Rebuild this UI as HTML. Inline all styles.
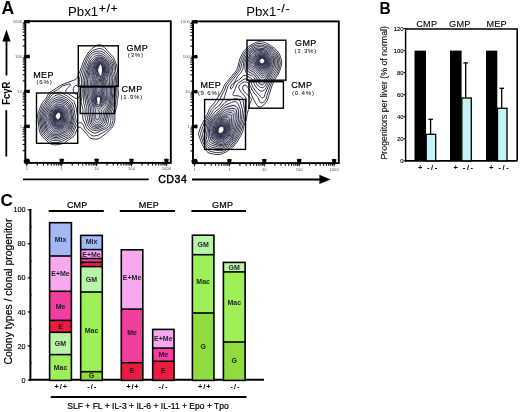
<!DOCTYPE html>
<html><head><meta charset="utf-8"><style>
html,body{margin:0;padding:0;background:#fff;width:520px;height:412px;overflow:hidden}
svg{display:block;font-family:"Liberation Sans",sans-serif;will-change:transform}
</style></head><body>
<svg width="520" height="412" viewBox="0 0 520 412" font-family="Liberation Sans, sans-serif"><defs><radialGradient id="core">
<stop offset="0" stop-color="#fff" stop-opacity="1"/>
<stop offset="0.14" stop-color="#fff" stop-opacity="0.95"/>
<stop offset="0.26" stop-color="#15172e" stop-opacity="0.75"/>
<stop offset="0.55" stop-color="#2a2c4a" stop-opacity="0.4"/>
<stop offset="1" stop-color="#2a2c4a" stop-opacity="0"/>
</radialGradient></defs>
<text x="1.5" y="14.1" font-size="17.5" font-weight="bold" text-anchor="start" fill="#000" >A</text>
<rect x="25.3" y="21.2" width="145.5" height="141.70000000000002" fill="none" stroke="#000" stroke-width="1.9"/><path d="M23.8 20.4 L29.5 19.7 Q30.5 21.6 29.5 23.5 L23.8 22.8 Z" fill="#000"/><path d="M23.8 55.3 L29.5 54.6 Q30.5 56.5 29.5 58.4 L23.8 57.7 Z" fill="#000"/><path d="M23.8 90.2 L29.5 89.5 Q30.5 91.4 29.5 93.3 L23.8 92.6 Z" fill="#000"/><path d="M23.8 125.1 L29.5 124.4 Q30.5 126.3 29.5 128.2 L23.8 127.5 Z" fill="#000"/><path d="M23.8 160.0 L29.5 159.3 Q30.5 161.2 29.5 163.1 L23.8 162.4 Z" fill="#000"/><path d="M25.6 164.4 L24.4 159.1 Q26.8 158.1 29.2 159.1 L28.0 164.4 Z" fill="#000"/><line x1="26.8" y1="162.9" x2="26.8" y2="166.3" stroke="#000" stroke-width="0.9"/><path d="M60.5 164.4 L59.3 159.1 Q61.7 158.1 64.1 159.1 L62.9 164.4 Z" fill="#000"/><line x1="61.7" y1="162.9" x2="61.7" y2="166.3" stroke="#000" stroke-width="0.9"/><path d="M95.4 164.4 L94.2 159.1 Q96.6 158.1 99.0 159.1 L97.8 164.4 Z" fill="#000"/><line x1="96.6" y1="162.9" x2="96.6" y2="166.3" stroke="#000" stroke-width="0.9"/><path d="M130.3 164.4 L129.1 159.1 Q131.5 158.1 133.9 159.1 L132.7 164.4 Z" fill="#000"/><line x1="131.5" y1="162.9" x2="131.5" y2="166.3" stroke="#000" stroke-width="0.9"/><path d="M165.2 164.4 L164.0 159.1 Q166.4 158.1 168.8 159.1 L167.6 164.4 Z" fill="#000"/><line x1="166.4" y1="162.9" x2="166.4" y2="166.3" stroke="#000" stroke-width="0.9"/><line x1="22.7" y1="150.7" x2="25.3" y2="150.7" stroke="#000" stroke-width="1.1"/><line x1="37.3" y1="162.9" x2="37.3" y2="165.5" stroke="#000" stroke-width="1.1"/><line x1="22.7" y1="144.5" x2="25.3" y2="144.5" stroke="#000" stroke-width="1.1"/><line x1="43.5" y1="162.9" x2="43.5" y2="165.5" stroke="#000" stroke-width="1.1"/><line x1="22.7" y1="140.2" x2="25.3" y2="140.2" stroke="#000" stroke-width="1.1"/><line x1="47.8" y1="162.9" x2="47.8" y2="165.5" stroke="#000" stroke-width="1.1"/><line x1="22.7" y1="136.8" x2="25.3" y2="136.8" stroke="#000" stroke-width="1.1"/><line x1="51.2" y1="162.9" x2="51.2" y2="165.5" stroke="#000" stroke-width="1.1"/><line x1="22.7" y1="134.0" x2="25.3" y2="134.0" stroke="#000" stroke-width="1.1"/><line x1="54.0" y1="162.9" x2="54.0" y2="165.5" stroke="#000" stroke-width="1.1"/><line x1="22.7" y1="131.7" x2="25.3" y2="131.7" stroke="#000" stroke-width="1.1"/><line x1="56.3" y1="162.9" x2="56.3" y2="165.5" stroke="#000" stroke-width="1.1"/><line x1="22.7" y1="129.7" x2="25.3" y2="129.7" stroke="#000" stroke-width="1.1"/><line x1="58.3" y1="162.9" x2="58.3" y2="165.5" stroke="#000" stroke-width="1.1"/><line x1="22.7" y1="127.9" x2="25.3" y2="127.9" stroke="#000" stroke-width="1.1"/><line x1="60.1" y1="162.9" x2="60.1" y2="165.5" stroke="#000" stroke-width="1.1"/><line x1="22.7" y1="115.8" x2="25.3" y2="115.8" stroke="#000" stroke-width="1.1"/><line x1="72.2" y1="162.9" x2="72.2" y2="165.5" stroke="#000" stroke-width="1.1"/><line x1="22.7" y1="109.6" x2="25.3" y2="109.6" stroke="#000" stroke-width="1.1"/><line x1="78.4" y1="162.9" x2="78.4" y2="165.5" stroke="#000" stroke-width="1.1"/><line x1="22.7" y1="105.3" x2="25.3" y2="105.3" stroke="#000" stroke-width="1.1"/><line x1="82.7" y1="162.9" x2="82.7" y2="165.5" stroke="#000" stroke-width="1.1"/><line x1="22.7" y1="101.9" x2="25.3" y2="101.9" stroke="#000" stroke-width="1.1"/><line x1="86.1" y1="162.9" x2="86.1" y2="165.5" stroke="#000" stroke-width="1.1"/><line x1="22.7" y1="99.1" x2="25.3" y2="99.1" stroke="#000" stroke-width="1.1"/><line x1="88.9" y1="162.9" x2="88.9" y2="165.5" stroke="#000" stroke-width="1.1"/><line x1="22.7" y1="96.8" x2="25.3" y2="96.8" stroke="#000" stroke-width="1.1"/><line x1="91.2" y1="162.9" x2="91.2" y2="165.5" stroke="#000" stroke-width="1.1"/><line x1="22.7" y1="94.8" x2="25.3" y2="94.8" stroke="#000" stroke-width="1.1"/><line x1="93.2" y1="162.9" x2="93.2" y2="165.5" stroke="#000" stroke-width="1.1"/><line x1="22.7" y1="93.0" x2="25.3" y2="93.0" stroke="#000" stroke-width="1.1"/><line x1="95.0" y1="162.9" x2="95.0" y2="165.5" stroke="#000" stroke-width="1.1"/><line x1="22.7" y1="80.9" x2="25.3" y2="80.9" stroke="#000" stroke-width="1.1"/><line x1="107.1" y1="162.9" x2="107.1" y2="165.5" stroke="#000" stroke-width="1.1"/><line x1="22.7" y1="74.7" x2="25.3" y2="74.7" stroke="#000" stroke-width="1.1"/><line x1="113.3" y1="162.9" x2="113.3" y2="165.5" stroke="#000" stroke-width="1.1"/><line x1="22.7" y1="70.4" x2="25.3" y2="70.4" stroke="#000" stroke-width="1.1"/><line x1="117.6" y1="162.9" x2="117.6" y2="165.5" stroke="#000" stroke-width="1.1"/><line x1="22.7" y1="67.0" x2="25.3" y2="67.0" stroke="#000" stroke-width="1.1"/><line x1="121.0" y1="162.9" x2="121.0" y2="165.5" stroke="#000" stroke-width="1.1"/><line x1="22.7" y1="64.2" x2="25.3" y2="64.2" stroke="#000" stroke-width="1.1"/><line x1="123.8" y1="162.9" x2="123.8" y2="165.5" stroke="#000" stroke-width="1.1"/><line x1="22.7" y1="61.9" x2="25.3" y2="61.9" stroke="#000" stroke-width="1.1"/><line x1="126.1" y1="162.9" x2="126.1" y2="165.5" stroke="#000" stroke-width="1.1"/><line x1="22.7" y1="59.9" x2="25.3" y2="59.9" stroke="#000" stroke-width="1.1"/><line x1="128.1" y1="162.9" x2="128.1" y2="165.5" stroke="#000" stroke-width="1.1"/><line x1="22.7" y1="58.1" x2="25.3" y2="58.1" stroke="#000" stroke-width="1.1"/><line x1="129.9" y1="162.9" x2="129.9" y2="165.5" stroke="#000" stroke-width="1.1"/><line x1="22.7" y1="46.0" x2="25.3" y2="46.0" stroke="#000" stroke-width="1.1"/><line x1="142.0" y1="162.9" x2="142.0" y2="165.5" stroke="#000" stroke-width="1.1"/><line x1="22.7" y1="39.8" x2="25.3" y2="39.8" stroke="#000" stroke-width="1.1"/><line x1="148.2" y1="162.9" x2="148.2" y2="165.5" stroke="#000" stroke-width="1.1"/><line x1="22.7" y1="35.5" x2="25.3" y2="35.5" stroke="#000" stroke-width="1.1"/><line x1="152.5" y1="162.9" x2="152.5" y2="165.5" stroke="#000" stroke-width="1.1"/><line x1="22.7" y1="32.1" x2="25.3" y2="32.1" stroke="#000" stroke-width="1.1"/><line x1="155.9" y1="162.9" x2="155.9" y2="165.5" stroke="#000" stroke-width="1.1"/><line x1="22.7" y1="29.3" x2="25.3" y2="29.3" stroke="#000" stroke-width="1.1"/><line x1="158.7" y1="162.9" x2="158.7" y2="165.5" stroke="#000" stroke-width="1.1"/><line x1="22.7" y1="27.0" x2="25.3" y2="27.0" stroke="#000" stroke-width="1.1"/><line x1="161.0" y1="162.9" x2="161.0" y2="165.5" stroke="#000" stroke-width="1.1"/><line x1="22.7" y1="25.0" x2="25.3" y2="25.0" stroke="#000" stroke-width="1.1"/><line x1="163.0" y1="162.9" x2="163.0" y2="165.5" stroke="#000" stroke-width="1.1"/><line x1="22.7" y1="23.2" x2="25.3" y2="23.2" stroke="#000" stroke-width="1.1"/><line x1="164.8" y1="162.9" x2="164.8" y2="165.5" stroke="#000" stroke-width="1.1"/><text x="22.1" y="22.999999999999996" font-size="4.2" font-weight="normal" text-anchor="end" fill="#555" >1000</text><text x="22.1" y="57.9" font-size="4.2" font-weight="normal" text-anchor="end" fill="#555" >100</text><text x="22.1" y="92.8" font-size="4.2" font-weight="normal" text-anchor="end" fill="#555" >10</text><text x="22.1" y="127.69999999999999" font-size="4.2" font-weight="normal" text-anchor="end" fill="#555" >1</text><text x="26.8" y="170.3" font-size="4.2" font-weight="normal" text-anchor="middle" fill="#555" >1</text><text x="61.7" y="170.3" font-size="4.2" font-weight="normal" text-anchor="middle" fill="#555" >1</text><text x="96.6" y="170.3" font-size="4.2" font-weight="normal" text-anchor="middle" fill="#555" >10</text><text x="131.5" y="170.3" font-size="4.2" font-weight="normal" text-anchor="middle" fill="#555" >100</text><text x="166.4" y="170.3" font-size="4.2" font-weight="normal" text-anchor="middle" fill="#555" >1000</text>
<rect x="193.0" y="21.4" width="145.8" height="141.7" fill="none" stroke="#000" stroke-width="1.9"/><path d="M191.5 20.6 L197.2 19.9 Q198.2 21.8 197.2 23.7 L191.5 23.0 Z" fill="#000"/><path d="M191.5 55.5 L197.2 54.8 Q198.2 56.7 197.2 58.6 L191.5 57.9 Z" fill="#000"/><path d="M191.5 90.4 L197.2 89.7 Q198.2 91.6 197.2 93.5 L191.5 92.8 Z" fill="#000"/><path d="M191.5 125.3 L197.2 124.6 Q198.2 126.5 197.2 128.4 L191.5 127.7 Z" fill="#000"/><path d="M191.5 160.2 L197.2 159.5 Q198.2 161.4 197.2 163.3 L191.5 162.6 Z" fill="#000"/><path d="M193.3 164.6 L192.1 159.3 Q194.5 158.3 196.9 159.3 L195.7 164.6 Z" fill="#000"/><line x1="194.5" y1="163.1" x2="194.5" y2="166.5" stroke="#000" stroke-width="0.9"/><path d="M228.2 164.6 L227.0 159.3 Q229.4 158.3 231.8 159.3 L230.6 164.6 Z" fill="#000"/><line x1="229.4" y1="163.1" x2="229.4" y2="166.5" stroke="#000" stroke-width="0.9"/><path d="M263.1 164.6 L261.9 159.3 Q264.3 158.3 266.7 159.3 L265.5 164.6 Z" fill="#000"/><line x1="264.3" y1="163.1" x2="264.3" y2="166.5" stroke="#000" stroke-width="0.9"/><path d="M298.0 164.6 L296.8 159.3 Q299.2 158.3 301.6 159.3 L300.4 164.6 Z" fill="#000"/><line x1="299.2" y1="163.1" x2="299.2" y2="166.5" stroke="#000" stroke-width="0.9"/><path d="M332.9 164.6 L331.7 159.3 Q334.1 158.3 336.5 159.3 L335.3 164.6 Z" fill="#000"/><line x1="334.1" y1="163.1" x2="334.1" y2="166.5" stroke="#000" stroke-width="0.9"/><line x1="190.4" y1="150.9" x2="193.0" y2="150.9" stroke="#000" stroke-width="1.1"/><line x1="205.0" y1="163.1" x2="205.0" y2="165.7" stroke="#000" stroke-width="1.1"/><line x1="190.4" y1="144.7" x2="193.0" y2="144.7" stroke="#000" stroke-width="1.1"/><line x1="211.2" y1="163.1" x2="211.2" y2="165.7" stroke="#000" stroke-width="1.1"/><line x1="190.4" y1="140.4" x2="193.0" y2="140.4" stroke="#000" stroke-width="1.1"/><line x1="215.5" y1="163.1" x2="215.5" y2="165.7" stroke="#000" stroke-width="1.1"/><line x1="190.4" y1="137.0" x2="193.0" y2="137.0" stroke="#000" stroke-width="1.1"/><line x1="218.9" y1="163.1" x2="218.9" y2="165.7" stroke="#000" stroke-width="1.1"/><line x1="190.4" y1="134.2" x2="193.0" y2="134.2" stroke="#000" stroke-width="1.1"/><line x1="221.7" y1="163.1" x2="221.7" y2="165.7" stroke="#000" stroke-width="1.1"/><line x1="190.4" y1="131.9" x2="193.0" y2="131.9" stroke="#000" stroke-width="1.1"/><line x1="224.0" y1="163.1" x2="224.0" y2="165.7" stroke="#000" stroke-width="1.1"/><line x1="190.4" y1="129.9" x2="193.0" y2="129.9" stroke="#000" stroke-width="1.1"/><line x1="226.0" y1="163.1" x2="226.0" y2="165.7" stroke="#000" stroke-width="1.1"/><line x1="190.4" y1="128.1" x2="193.0" y2="128.1" stroke="#000" stroke-width="1.1"/><line x1="227.8" y1="163.1" x2="227.8" y2="165.7" stroke="#000" stroke-width="1.1"/><line x1="190.4" y1="116.0" x2="193.0" y2="116.0" stroke="#000" stroke-width="1.1"/><line x1="239.9" y1="163.1" x2="239.9" y2="165.7" stroke="#000" stroke-width="1.1"/><line x1="190.4" y1="109.8" x2="193.0" y2="109.8" stroke="#000" stroke-width="1.1"/><line x1="246.1" y1="163.1" x2="246.1" y2="165.7" stroke="#000" stroke-width="1.1"/><line x1="190.4" y1="105.5" x2="193.0" y2="105.5" stroke="#000" stroke-width="1.1"/><line x1="250.4" y1="163.1" x2="250.4" y2="165.7" stroke="#000" stroke-width="1.1"/><line x1="190.4" y1="102.1" x2="193.0" y2="102.1" stroke="#000" stroke-width="1.1"/><line x1="253.8" y1="163.1" x2="253.8" y2="165.7" stroke="#000" stroke-width="1.1"/><line x1="190.4" y1="99.3" x2="193.0" y2="99.3" stroke="#000" stroke-width="1.1"/><line x1="256.6" y1="163.1" x2="256.6" y2="165.7" stroke="#000" stroke-width="1.1"/><line x1="190.4" y1="97.0" x2="193.0" y2="97.0" stroke="#000" stroke-width="1.1"/><line x1="258.9" y1="163.1" x2="258.9" y2="165.7" stroke="#000" stroke-width="1.1"/><line x1="190.4" y1="95.0" x2="193.0" y2="95.0" stroke="#000" stroke-width="1.1"/><line x1="260.9" y1="163.1" x2="260.9" y2="165.7" stroke="#000" stroke-width="1.1"/><line x1="190.4" y1="93.2" x2="193.0" y2="93.2" stroke="#000" stroke-width="1.1"/><line x1="262.7" y1="163.1" x2="262.7" y2="165.7" stroke="#000" stroke-width="1.1"/><line x1="190.4" y1="81.1" x2="193.0" y2="81.1" stroke="#000" stroke-width="1.1"/><line x1="274.8" y1="163.1" x2="274.8" y2="165.7" stroke="#000" stroke-width="1.1"/><line x1="190.4" y1="74.9" x2="193.0" y2="74.9" stroke="#000" stroke-width="1.1"/><line x1="281.0" y1="163.1" x2="281.0" y2="165.7" stroke="#000" stroke-width="1.1"/><line x1="190.4" y1="70.6" x2="193.0" y2="70.6" stroke="#000" stroke-width="1.1"/><line x1="285.3" y1="163.1" x2="285.3" y2="165.7" stroke="#000" stroke-width="1.1"/><line x1="190.4" y1="67.2" x2="193.0" y2="67.2" stroke="#000" stroke-width="1.1"/><line x1="288.7" y1="163.1" x2="288.7" y2="165.7" stroke="#000" stroke-width="1.1"/><line x1="190.4" y1="64.4" x2="193.0" y2="64.4" stroke="#000" stroke-width="1.1"/><line x1="291.5" y1="163.1" x2="291.5" y2="165.7" stroke="#000" stroke-width="1.1"/><line x1="190.4" y1="62.1" x2="193.0" y2="62.1" stroke="#000" stroke-width="1.1"/><line x1="293.8" y1="163.1" x2="293.8" y2="165.7" stroke="#000" stroke-width="1.1"/><line x1="190.4" y1="60.1" x2="193.0" y2="60.1" stroke="#000" stroke-width="1.1"/><line x1="295.8" y1="163.1" x2="295.8" y2="165.7" stroke="#000" stroke-width="1.1"/><line x1="190.4" y1="58.3" x2="193.0" y2="58.3" stroke="#000" stroke-width="1.1"/><line x1="297.6" y1="163.1" x2="297.6" y2="165.7" stroke="#000" stroke-width="1.1"/><line x1="190.4" y1="46.2" x2="193.0" y2="46.2" stroke="#000" stroke-width="1.1"/><line x1="309.7" y1="163.1" x2="309.7" y2="165.7" stroke="#000" stroke-width="1.1"/><line x1="190.4" y1="40.0" x2="193.0" y2="40.0" stroke="#000" stroke-width="1.1"/><line x1="315.9" y1="163.1" x2="315.9" y2="165.7" stroke="#000" stroke-width="1.1"/><line x1="190.4" y1="35.7" x2="193.0" y2="35.7" stroke="#000" stroke-width="1.1"/><line x1="320.2" y1="163.1" x2="320.2" y2="165.7" stroke="#000" stroke-width="1.1"/><line x1="190.4" y1="32.3" x2="193.0" y2="32.3" stroke="#000" stroke-width="1.1"/><line x1="323.6" y1="163.1" x2="323.6" y2="165.7" stroke="#000" stroke-width="1.1"/><line x1="190.4" y1="29.5" x2="193.0" y2="29.5" stroke="#000" stroke-width="1.1"/><line x1="326.4" y1="163.1" x2="326.4" y2="165.7" stroke="#000" stroke-width="1.1"/><line x1="190.4" y1="27.2" x2="193.0" y2="27.2" stroke="#000" stroke-width="1.1"/><line x1="328.7" y1="163.1" x2="328.7" y2="165.7" stroke="#000" stroke-width="1.1"/><line x1="190.4" y1="25.2" x2="193.0" y2="25.2" stroke="#000" stroke-width="1.1"/><line x1="330.7" y1="163.1" x2="330.7" y2="165.7" stroke="#000" stroke-width="1.1"/><line x1="190.4" y1="23.4" x2="193.0" y2="23.4" stroke="#000" stroke-width="1.1"/><line x1="332.5" y1="163.1" x2="332.5" y2="165.7" stroke="#000" stroke-width="1.1"/><text x="189.8" y="23.199999999999996" font-size="4.2" font-weight="normal" text-anchor="end" fill="#555" >1000</text><text x="189.8" y="58.099999999999994" font-size="4.2" font-weight="normal" text-anchor="end" fill="#555" >100</text><text x="189.8" y="93.0" font-size="4.2" font-weight="normal" text-anchor="end" fill="#555" >10</text><text x="189.8" y="127.89999999999999" font-size="4.2" font-weight="normal" text-anchor="end" fill="#555" >1</text><text x="194.5" y="170.5" font-size="4.2" font-weight="normal" text-anchor="middle" fill="#555" >1</text><text x="229.4" y="170.5" font-size="4.2" font-weight="normal" text-anchor="middle" fill="#555" >1</text><text x="264.3" y="170.5" font-size="4.2" font-weight="normal" text-anchor="middle" fill="#555" >10</text><text x="299.2" y="170.5" font-size="4.2" font-weight="normal" text-anchor="middle" fill="#555" >100</text><text x="334.1" y="170.5" font-size="4.2" font-weight="normal" text-anchor="middle" fill="#555" >1000</text>
<text x="68" y="15.8" font-size="13.2">Pbx1<tspan font-size="11.5" dx="1" dy="-3.4" letter-spacing="0.9" stroke="#000" stroke-width="0.25">+/+</tspan></text>
<text x="246.2" y="15.8" font-size="13.2">Pbx1<tspan font-size="11.5" dx="0.6" dy="-3.4" letter-spacing="0.9" stroke="#000" stroke-width="0.25">-/-</tspan></text>
<path d="M2.4 41.5 L6.5 29.6 L10.6 41.5 Z" fill="#000"/>
<line x1="6.5" y1="40" x2="6.5" y2="75.5" stroke="#000" stroke-width="1.8"/>
<text transform="translate(9.9,104.7) rotate(-90)" font-size="10.4" font-weight="bold" textLength="23" lengthAdjust="spacingAndGlyphs">Fc&#947;R</text>
<line x1="6.3" y1="110.2" x2="6.3" y2="156.5" stroke="#000" stroke-width="1.8"/>
<line x1="23" y1="179.4" x2="148.7" y2="179.4" stroke="#000" stroke-width="1.8"/>
<text x="158.2" y="182.6" font-size="10.6" font-weight="normal" text-anchor="start" fill="#000" letter-spacing="0.5" stroke="#000" stroke-width="0.45">CD34</text>
<line x1="192" y1="179.5" x2="321" y2="179.5" stroke="#000" stroke-width="1.8"/>
<path d="M319.4 174.8 L330.6 179.4 L319.4 183.9 Z" fill="#000"/>
<path d="M97.7 128.0L95.0 128.0L92.3 126.9L90.3 125.1L89.3 123.0L87.8 113.7L87.8 107.7L86.2 101.7L85.1 94.3L85.2 80.7L87.2 70.3L90.7 61.9L94.7 57.4L99.0 56.0L102.0 56.7L105.7 59.0L108.6 61.7L110.4 64.7L110.4 72.0L112.0 77.7L111.8 83.0L112.4 91.0L111.0 104.0L107.7 111.7L105.3 123.0L103.0 125.6L97.7 128.0Z M57.7 136.7L55.0 136.8L51.7 135.8L49.0 134.3L46.7 132.0L45.1 128.3L43.2 117.3L44.4 113.0L50.3 102.9L54.0 99.8L59.3 97.9L65.3 100.1L69.9 104.0L71.9 108.7L73.2 118.0L71.2 126.0L68.3 131.3L66.3 132.9L57.7 136.7Z" fill="#3a3e62" fill-opacity="0.15"/><path d="M97.3 122.1L95.7 121.5L94.6 119.3L93.8 109.0L90.4 96.7L90.0 90.3L91.8 69.7L95.0 63.3L97.3 61.6L99.7 61.1L104.0 62.8L105.7 64.7L106.4 66.7L105.6 78.7L107.5 88.7L107.3 99.0L106.0 103.9L101.2 109.3L100.7 117.3L99.3 120.7L97.3 122.1Z M57.0 131.4L53.7 130.9L50.3 127.9L48.3 121.7L48.1 117.0L49.7 112.7L52.3 109.2L57.7 105.5L61.3 104.9L64.7 106.3L66.6 109.0L68.7 117.0L68.6 121.3L67.6 125.0L66.0 127.1L57.0 131.4Z" fill="#3a3e62" fill-opacity="0.15"/><path d="M100.7 72.3L98.0 72.2L96.4 69.7L97.1 66.3L99.3 64.7L101.7 65.3L103.0 67.7L102.5 70.7L100.7 72.3Z M98.0 103.0L96.3 102.2L95.2 100.0L94.4 87.7L96.2 82.0L97.7 80.2L99.0 79.8L101.3 81.5L102.9 85.3L103.0 88.3L101.9 93.7L102.6 98.3L101.3 101.4L98.0 103.0Z M60.0 126.1L57.3 126.1L55.3 124.9L54.0 122.3L53.0 118.3L53.1 115.7L54.1 113.3L56.0 111.7L58.3 110.9L60.3 111.2L62.2 112.7L63.6 115.3L64.2 118.7L64.3 121.7L63.7 123.7L62.3 125.1L60.0 126.1Z" fill="#3a3e62" fill-opacity="0.15"/><path d="M58.7 119.7L57.7 119.1L57.3 118.0L57.6 116.7L58.3 116.1L59.3 116.6L59.7 117.7L59.5 119.0L58.7 119.7 M59.3 121.4L58.3 121.4L57.6 121.0L56.4 118.7L56.6 116.0L58.0 114.8L59.7 115.2L60.6 117.0L60.6 119.7L59.3 121.4 M100.0 68.7L99.3 68.0L100.0 67.4L100.5 68.0L100.0 68.7 M99.3 90.0L98.7 90.3L98.0 89.9L97.3 88.0L97.7 85.9L98.3 85.0L99.0 84.8L100.0 85.6L100.4 87.0L100.1 88.7L99.3 90.0 M59.3 123.0L58.0 122.8L57.0 122.0L56.1 120.7L55.5 118.7L55.5 117.0L55.9 115.3L56.7 114.3L58.0 113.6L59.3 113.8L60.3 114.5L61.6 117.3L61.2 121.3L60.3 122.6L59.3 123.0 M100.3 70.1L99.0 70.0L98.2 68.7L98.5 67.0L99.7 66.2L101.0 66.7L101.5 67.7L101.3 69.2L100.3 70.1 M98.7 93.0L98.0 92.8L97.0 91.4L96.2 87.7L97.0 84.5L98.0 83.3L99.0 82.9L100.0 83.3L100.8 84.3L101.4 87.3L100.3 91.2L98.7 93.0 M99.0 100.7L97.7 100.6L96.9 99.3L97.1 97.7L98.3 96.4L99.7 97.0L100.3 98.3L100.1 99.7L99.0 100.7 M60.3 124.1L58.7 124.3L57.0 123.6L55.7 122.0L54.9 119.7L54.6 117.3L55.0 115.1L56.0 113.6L57.7 112.7L59.0 112.7L60.5 113.3L61.6 114.7L62.2 116.3L62.6 119.0L62.4 121.7L61.7 123.1L60.3 124.1" fill="none" stroke="#1e2038" stroke-width="0.5"/><path d="M100.3 71.4L98.3 71.0L97.2 69.0L97.2 67.7L97.8 66.3L99.7 65.3L101.5 66.0L102.4 68.0L102.0 70.0L100.3 71.4 M98.7 102.0L97.0 101.6L95.9 99.7L96.3 94.3L95.2 87.7L95.6 85.3L96.4 83.3L97.7 81.8L99.0 81.2L100.3 81.8L101.3 83.1L102.1 85.0L102.4 87.3L100.8 94.0L101.6 98.0L101.5 99.3L100.5 101.0L98.7 102.0 M59.7 125.4L57.3 125.1L55.8 124.0L54.5 121.7L53.8 118.7L53.8 116.0L54.5 114.0L56.0 112.5L58.0 111.7L60.0 111.9L61.7 113.2L62.8 115.3L63.4 118.0L63.6 121.0L63.1 123.0L61.7 124.6L59.7 125.4 M99.7 73.0L98.3 72.8L97.2 72.0L96.4 70.7L96.1 69.0L96.5 67.0L97.3 65.7L98.7 64.7L100.0 64.5L101.3 64.9L102.3 65.7L103.0 67.0L103.2 68.7L102.9 70.3L102.1 71.7L101.0 72.6L99.7 73.0 M99.3 103.0L97.0 103.1L96.0 102.2L95.2 100.7L94.2 88.3L94.5 85.3L95.7 82.4L97.3 80.0L98.7 79.3L100.3 79.9L101.7 81.5L102.8 84.3L103.3 87.0L102.2 93.7L102.9 97.7L102.8 99.3L101.7 101.4L99.3 103.0 M59.7 126.4L57.0 126.3L55.0 125.0L53.6 122.0L52.7 118.0L52.9 115.3L54.0 113.1L56.0 111.4L58.3 110.7L60.7 111.1L62.5 112.7L63.8 115.3L64.6 119.3L64.5 122.0L63.8 124.0L62.0 125.6L59.7 126.4 M98.0 104.7L96.7 104.5L95.7 103.7L94.2 100.7L93.2 87.7L93.9 84.0L96.8 76.3L95.1 71.3L95.4 67.7L97.1 64.7L98.3 63.9L100.0 63.6L101.3 64.0L102.7 64.9L103.5 66.0L104.0 67.7L104.0 69.7L103.4 71.7L100.6 75.3L100.3 76.3L102.9 81.7L104.1 85.7L104.2 88.3L103.5 93.3L104.1 98.7L103.6 100.7L102.3 102.3L100.0 104.0L98.0 104.7 M59.3 127.4L56.0 127.4L54.0 126.0L52.5 122.3L51.6 117.3L52.1 114.3L53.7 112.0L56.3 110.2L59.3 109.5L61.7 110.2L63.6 112.3L65.1 116.3L65.7 120.7L65.4 123.0L64.3 125.0L62.3 126.4L59.3 127.4 M98.3 106.4L97.0 106.5L96.0 106.1L94.8 104.7L93.8 102.3L92.7 97.3L92.1 88.3L92.5 85.0L94.2 78.3L93.6 71.7L94.2 68.3L95.1 66.0L96.3 64.3L98.0 63.1L99.7 62.8L101.3 63.1L103.0 64.1L104.1 65.3L104.8 67.3L104.6 71.0L102.7 77.0L105.2 86.7L104.8 93.3L105.3 98.7L104.8 101.0L103.7 102.8L101.7 104.4L98.3 106.4 M58.0 128.7L55.0 128.6L52.7 126.7L50.7 120.7L50.4 116.7L51.5 113.3L53.7 110.7L57.3 108.7L60.7 108.2L63.0 109.2L64.8 112.0L66.5 117.3L66.7 121.7L65.9 124.3L64.3 126.2L62.0 127.5L58.0 128.7 M97.7 119.9L96.3 119.6L95.5 117.7L95.2 114.3L95.5 109.7L93.1 103.7L91.9 99.0L91.1 94.0L90.9 89.0L91.2 85.3L92.4 79.3L92.1 72.7L92.8 69.3L94.1 66.0L95.7 63.7L97.7 62.3L99.7 61.9L101.7 62.3L103.7 63.5L105.0 65.0L105.7 67.0L105.7 70.3L104.4 77.7L106.4 87.7L106.5 98.7L106.0 101.3L105.0 103.3L100.1 107.7L98.9 109.3L98.8 110.7L99.6 113.7L99.7 115.7L98.9 118.3L97.7 119.9 M56.3 130.4L54.7 130.1L53.3 129.5L50.9 126.7L49.2 120.3L49.2 116.3L50.8 112.3L53.3 109.6L58.0 106.9L60.0 106.3L61.7 106.4L64.3 107.9L66.0 111.0L67.9 118.0L67.6 122.7L66.5 125.3L64.7 127.2L59.3 129.5L56.3 130.4 M98.0 122.4L96.7 122.6L95.7 122.1L94.4 120.0L93.4 108.7L90.1 96.7L89.6 91.3L90.9 79.3L90.8 72.7L91.4 70.0L93.2 65.7L95.0 63.0L97.0 61.5L99.7 60.9L102.0 61.4L104.0 62.5L105.5 64.0L106.5 66.0L106.8 68.7L106.0 79.3L107.5 87.0L107.8 90.7L107.5 99.3L107.0 102.3L105.7 105.0L101.8 109.3L101.1 117.0L99.8 120.7L98.0 122.4 M57.0 131.8L55.3 131.8L53.3 131.1L51.4 129.7L50.0 128.0L49.0 125.7L48.0 122.0L47.7 117.3L49.4 112.7L52.3 108.8L57.7 104.9L59.3 104.4L61.3 104.5L64.7 105.8L66.7 108.3L68.9 116.7L68.9 121.0L67.8 125.0L66.1 127.3L64.3 128.5L57.0 131.8 M97.7 124.4L96.3 124.4L95.0 123.9L93.7 122.7L93.1 121.3L91.8 108.0L88.8 96.7L88.3 92.0L89.6 73.0L90.3 69.7L92.4 65.0L94.3 62.2L97.0 60.3L99.7 59.8L102.3 60.4L104.7 61.8L106.6 63.7L107.6 65.7L107.8 67.7L107.6 80.3L108.9 87.3L109.2 91.0L108.6 100.7L108.0 103.7L107.0 105.7L103.8 110.3L103.1 116.0L101.3 121.3L99.7 123.3L97.7 124.4 M56.3 133.3L54.3 133.1L52.3 132.2L50.4 130.7L49.0 129.0L47.9 126.7L46.7 122.3L46.4 117.3L47.0 115.0L48.5 112.0L50.4 109.0L52.7 106.3L56.7 103.2L58.7 102.6L60.7 102.6L65.0 104.2L66.7 105.5L67.8 107.0L68.9 110.0L70.0 115.7L70.1 120.3L68.9 125.0L67.0 128.0L65.3 129.3L58.7 132.6L56.3 133.3" fill="none" stroke="#1e2038" stroke-width="0.7"/><path d="M98.3 125.7L96.3 126.0L94.3 125.4L92.7 124.0L91.7 122.3L90.5 113.0L90.3 107.7L87.8 98.3L87.0 92.7L87.6 79.7L89.2 69.7L91.5 64.3L93.6 61.3L96.3 59.2L99.3 58.5L102.0 59.0L105.0 60.7L107.2 62.7L108.6 65.0L109.0 66.7L108.6 72.0L109.3 77.0L109.3 81.3L110.5 90.7L109.6 101.7L108.9 104.7L105.5 111.0L104.6 116.3L102.8 122.0L101.0 124.2L98.3 125.7 M57.0 134.7L54.7 134.6L52.3 133.8L50.0 132.3L48.1 130.3L47.0 128.0L45.8 123.7L45.1 120.3L45.0 117.7L45.5 115.3L46.4 113.3L49.9 107.3L52.0 104.5L53.7 102.9L55.7 101.6L58.0 100.9L60.0 100.7L62.3 101.3L65.3 102.8L67.3 104.2L68.7 105.8L70.3 110.3L71.3 116.0L71.4 119.0L69.8 125.3L67.7 129.1L65.7 130.6L58.7 134.2L57.0 134.7 M97.3 127.4L95.0 127.2L92.7 126.2L91.0 124.6L90.0 122.3L88.7 113.3L88.7 107.5L86.9 101.0L85.8 94.3L86.0 80.7L87.8 70.3L91.0 62.7L92.7 60.3L95.0 58.3L97.0 57.2L99.3 56.9L102.0 57.5L105.7 59.7L108.1 62.0L109.8 64.7L110.2 66.7L109.8 72.0L111.2 77.7L111.0 82.3L111.8 91.0L110.5 103.7L109.6 106.3L107.0 111.6L106.2 116.3L104.6 122.3L103.7 123.9L102.3 125.1L99.7 126.6L97.3 127.4 M57.7 136.0L55.0 136.1L52.0 135.2L49.3 133.6L47.3 131.7L45.7 128.0L44.0 121.0L43.8 117.7L44.2 115.3L44.9 113.3L48.8 106.3L50.9 103.3L52.7 101.6L54.7 100.3L57.7 99.1L59.7 98.9L62.0 99.5L65.7 101.2L68.0 102.9L69.6 104.7L70.6 106.7L71.4 109.7L72.6 118.3L70.9 125.3L68.3 130.3L66.0 132.1L57.7 136.0 M98.0 128.7L95.0 128.9L92.0 127.7L89.9 126.0L88.5 123.3L86.9 114.7L86.9 108.0L85.4 102.0L84.5 94.0L84.7 88.3L84.4 80.3L86.8 69.7L90.5 60.7L92.3 58.2L94.3 56.5L96.7 55.4L99.0 55.0L102.0 55.8L105.7 58.2L109.0 61.2L111.0 64.3L111.4 66.7L111.1 72.0L112.8 77.7L112.5 83.0L113.1 91.0L111.6 104.0L108.4 112.0L106.0 123.7L105.1 125.0L103.9 126.0L98.0 128.7 M58.0 137.4L55.0 137.5L51.3 136.5L48.3 134.7L46.1 132.3L44.6 129.0L42.9 121.0L42.6 117.3L43.0 115.0L43.8 112.7L47.5 105.7L49.9 102.3L52.0 100.2L54.0 98.8L57.3 97.2L59.3 96.9L62.0 97.6L66.0 99.5L68.7 101.5L70.4 103.3L72.5 108.3L73.9 117.7L73.4 120.7L71.9 125.7L70.2 129.7L68.7 132.0L66.3 133.9L58.0 137.4 M96.3 130.7L92.7 130.1L89.0 127.7L87.4 125.0L85.4 118.3L85.0 115.7L85.1 108.7L83.5 101.7L83.1 93.0L83.4 88.3L82.9 80.0L85.4 69.7L90.0 58.2L91.7 56.0L93.7 54.4L96.3 53.4L99.3 53.0L102.0 53.7L105.0 55.7L109.7 60.0L112.3 64.0L112.8 66.3L112.5 71.7L114.3 77.3L113.8 83.3L114.3 91.7L113.3 97.7L112.8 104.0L109.8 112.3L107.7 124.7L106.7 126.1L104.7 127.5L98.7 130.1L96.3 130.7 M57.7 139.0L54.0 138.9L50.7 137.8L47.4 135.7L44.8 133.0L43.4 129.7L41.7 121.0L41.5 117.3L42.4 113.0L45.3 106.7L47.1 103.7L50.7 99.4L53.3 96.9L56.0 95.2L58.7 94.6L61.3 95.3L66.7 97.9L71.6 102.0L72.8 104.3L73.9 107.7L75.4 117.3L74.9 120.3L73.4 124.7L70.8 131.3L69.3 133.7L67.0 135.4L57.7 139.0 M96.0 133.0L94.0 133.0L92.3 132.4L87.7 129.1L86.5 127.3L82.9 118.7L82.7 116.7L83.1 110.3L81.1 102.0L81.9 97.0L82.1 89.0L81.3 80.0L81.8 77.0L83.6 70.3L87.5 59.7L89.1 56.7L91.0 54.1L93.0 52.5L96.0 51.4L99.7 51.0L102.3 51.6L105.0 53.4L110.9 59.3L113.5 63.7L114.1 66.3L114.1 71.3L115.6 77.0L115.1 83.3L115.6 92.3L114.6 98.0L113.9 104.7L111.2 113.0L110.8 120.3L109.8 125.0L108.3 126.9L106.0 128.6L96.0 133.0 M57.7 140.7L53.3 140.5L50.7 139.7L46.3 136.5L43.6 133.7L42.1 130.0L40.6 121.0L40.3 116.7L40.8 113.7L44.1 105.7L51.1 96.0L52.7 94.4L54.7 93.2L57.0 92.4L59.3 92.1L61.0 92.5L68.0 96.4L73.9 101.3L76.0 107.0L77.6 117.3L76.9 120.3L71.7 132.7L70.5 134.7L67.3 137.0L60.0 140.1L57.7 140.7 M57.0 142.7L52.7 142.5L50.0 141.5L43.4 135.7L41.4 132.7L39.6 122.7L39.0 116.3L39.5 113.7L42.6 105.3L47.3 99.1L49.9 94.7L51.3 93.2L57.7 89.7L62.3 86.0L68.7 84.1L70.1 84.0L70.5 84.3L70.4 85.0L65.9 90.0L65.6 91.3L66.0 92.3L74.7 97.9L77.0 98.6L78.8 98.0L79.9 96.0L80.7 89.7L80.5 87.3L79.2 82.0L79.4 79.3L81.3 72.0L86.5 58.3L89.7 53.2L92.7 50.5L98.7 48.5L100.7 48.6L102.7 49.3L106.0 51.8L111.7 57.7L113.2 60.0L115.2 65.0L115.7 71.0L116.9 76.0L116.4 83.7L117.0 94.0L116.0 98.7L115.4 104.7L113.0 113.0L113.0 120.3L111.6 125.3L109.7 128.0L105.3 131.1L97.7 135.5L93.7 136.0L91.0 135.1L86.2 130.7L85.0 129.0L83.3 125.0L82.0 123.3L80.7 122.6L79.3 122.7L77.7 123.9L76.0 126.1L73.1 133.7L71.1 136.3L68.3 138.2L61.7 141.5L57.0 142.7 M58.0 144.7L53.7 144.8L49.7 143.6L42.3 136.7L40.3 133.7L39.1 129.0L37.6 116.0L37.9 113.7L41.1 105.0L42.4 102.7L46.0 98.4L48.4 94.0L50.7 91.8L61.2 85.0L74.7 79.8L76.7 78.5L78.0 76.3L84.4 59.0L88.8 52.0L91.7 48.8L96.7 45.3L99.0 44.7L101.3 45.2L104.3 47.4L113.6 57.3L116.6 65.0L118.1 74.7L117.9 87.0L118.5 94.7L117.4 99.7L117.0 105.3L114.9 112.7L114.8 120.3L113.4 125.3L111.3 128.5L105.7 133.7L99.7 138.3L97.0 139.2L92.3 138.8L89.7 137.7L81.3 127.8L80.3 127.1L79.0 127.1L77.3 128.6L74.8 134.7L72.9 137.0L68.3 140.0L64.3 143.2L58.0 144.7 M76.9 94.0L78.3 92.2L78.9 89.0L77.9 86.3L77.0 85.4L76.0 85.2L75.0 85.7L73.9 87.0L73.3 88.7L73.2 90.3L73.7 92.0L74.6 93.3L75.7 94.0L76.9 94.0" fill="none" stroke="#1e2038" stroke-width="0.9"/>
<ellipse cx="58" cy="116" rx="11" ry="15" fill="url(#core)" transform="rotate(10 58 116)"/>
<ellipse cx="100" cy="70" rx="10" ry="17" fill="url(#core)" transform="rotate(0 100 70)"/>
<ellipse cx="98.5" cy="99" rx="8" ry="10" fill="url(#core)" transform="rotate(0 98.5 99)"/>
<path d="M54.0 115.3h1.2M59.1 118.9h1.5M59.7 119.4h1.5M51.3 122.6h1.1M54.9 126.2h0.7M55.6 105.2h1.1M50.1 111.0h1.6M53.8 113.1h1.1M53.7 110.8h0.8M65.5 108.5h0.7M55.3 124.6h0.7M48.6 119.7h0.7M58.6 126.6h1.5M62.6 118.2h0.8M51.8 116.5h1.5M52.0 124.4h0.6M62.4 116.6h1.1M65.1 121.0h0.6M51.4 108.4h0.9M62.2 120.9h0.8M59.8 113.5h1.1M58.6 110.8h0.8M55.9 113.2h1.5M59.4 113.1h0.8M61.4 117.1h0.9M49.5 115.0h1.5M55.0 121.5h0.9M67.9 113.0h0.9M54.0 123.5h1.3M60.3 117.9h1.0M61.9 111.0h1.3M55.5 107.1h1.3M66.7 112.4h0.7M61.5 124.9h1.0M66.2 110.2h1.4M55.8 118.4h0.8M62.3 127.1h0.8M63.1 120.0h1.5M60.7 125.5h1.1M55.9 112.8h0.8M59.6 118.7h1.2M52.8 124.6h1.2M61.1 122.5h0.9M64.2 112.6h0.7M55.1 113.7h1.6M57.2 103.9h0.7M56.2 104.8h0.7M64.1 119.9h1.4M62.6 106.2h1.4M60.5 109.5h0.8M54.2 118.8h1.1M54.4 110.8h1.2M55.1 110.7h1.0M54.0 126.3h1.4M52.3 112.1h1.3M56.0 125.3h1.6M55.6 119.9h1.1M59.0 119.0h1.4M53.8 106.4h1.5M53.5 126.2h1.2M59.4 108.2h1.0M61.7 112.7h1.3M50.8 110.5h1.4M52.4 111.4h0.7M62.5 107.6h1.3M49.1 114.7h1.5M61.3 113.0h1.0M56.0 112.4h1.1M63.2 109.8h0.7M50.4 120.1h1.1" stroke="#15172c" stroke-width="0.7" stroke-opacity="0.7"/>
<path d="M104.5 69.2h0.8M97.6 78.0h0.8M105.6 80.8h1.5M108.4 72.3h1.1M99.8 78.0h1.0M93.9 74.2h1.5M101.8 79.9h1.3M107.8 64.7h1.5M102.6 70.0h1.2M92.9 80.2h0.8M95.8 59.8h1.4M102.9 77.8h1.4M102.1 70.7h0.7M93.8 78.1h0.9M100.8 64.9h1.5M93.7 63.9h1.3M93.7 67.7h1.5M100.9 80.8h1.5M91.3 74.3h1.4M107.4 67.6h0.7M91.5 72.0h1.0M94.4 63.1h1.0M104.4 67.6h1.4M97.2 75.4h1.4M108.2 68.5h0.8M97.1 57.8h0.7M101.7 79.3h0.7M97.2 84.4h1.3M102.1 68.0h1.3M93.7 63.2h1.1M104.0 69.3h0.7M104.8 80.1h0.7M105.8 63.3h1.1M105.1 60.9h1.1M97.9 85.7h0.8M104.2 72.3h0.7M106.4 64.0h0.7M101.3 58.5h1.3M93.5 73.0h1.3M100.1 63.6h0.8M102.2 70.2h0.7M104.0 74.6h0.6M103.2 69.0h1.3M105.9 72.4h1.4M103.9 63.0h1.1M102.7 74.4h1.4M102.7 78.5h1.0M99.2 80.5h1.4M106.3 71.7h0.7M103.8 65.8h1.0M92.7 77.8h1.0M96.7 85.9h1.1M106.6 75.3h0.7M104.6 72.1h1.3M96.2 82.3h1.0M97.9 74.6h1.4M98.6 68.4h1.3M98.7 79.7h0.8M95.3 80.9h0.7M100.2 81.0h1.6M92.9 73.7h1.1M106.9 70.5h1.0M101.1 76.5h0.6M96.5 67.4h0.9M107.9 67.6h0.7M95.7 59.7h1.6M100.4 64.5h0.9M99.7 79.7h1.5M94.2 76.5h1.5M106.7 63.0h0.6" stroke="#15172c" stroke-width="0.7" stroke-opacity="0.7"/>
<path d="M103.1 93.4h1.4M102.3 102.3h1.5M104.8 100.1h1.5M96.7 108.7h1.4M95.9 101.2h1.4M93.3 99.3h0.7M91.2 100.1h0.8M105.5 99.0h1.1M105.4 99.6h0.6M104.6 98.6h0.7M94.7 98.6h1.3M92.7 98.0h0.7M95.5 107.0h0.7M94.3 92.6h1.1M91.7 101.1h0.7M98.4 92.9h1.3M103.9 97.1h1.5M93.3 106.1h0.9M95.1 94.5h0.8M92.9 102.6h0.6M94.2 103.5h1.6M100.7 98.8h1.5M100.9 106.5h1.4M97.0 103.6h1.3M93.3 101.5h0.9M97.1 101.9h1.4M104.9 104.0h1.2M94.5 103.3h1.6M91.3 99.6h1.1M93.1 106.1h1.4M98.0 92.3h1.1M102.0 93.6h0.9M91.5 100.9h1.1M94.6 104.4h1.4M100.7 105.3h1.4" stroke="#15172c" stroke-width="0.7" stroke-opacity="0.7"/>
<ellipse cx="58.5" cy="116" rx="1.4" ry="3.2" fill="#fff" transform="rotate(8 58.5 116)"/>
<ellipse cx="100.5" cy="70" rx="1.3" ry="5.5" fill="#fff" transform="rotate(0 100.5 70)"/>
<ellipse cx="98.5" cy="101" rx="1.1" ry="3.5" fill="#fff" transform="rotate(0 98.5 101)"/>
<path d="M263.0 86.1L261.0 86.2L258.8 84.7L254.6 76.7L252.8 75.0L247.7 72.5L246.5 70.7L245.9 68.0L245.9 62.0L249.0 54.3L252.7 50.6L257.7 48.7L264.3 49.2L269.3 51.1L273.7 55.7L275.4 60.3L275.3 64.3L274.3 68.0L265.0 84.2L263.0 86.1Z M222.0 146.4L218.7 146.4L212.0 144.3L208.7 141.7L207.4 138.7L207.1 135.7L208.8 124.3L212.4 118.0L224.0 107.3L232.0 103.9L235.0 103.7L238.3 107.0L239.5 110.7L239.3 119.7L236.0 131.3L232.5 138.7L230.3 141.7L227.0 144.3L222.0 146.4Z" fill="#3a3e62" fill-opacity="0.15"/><path d="M263.7 75.0L262.3 75.3L261.0 74.7L255.4 68.7L251.3 66.7L250.3 65.1L250.5 62.0L253.0 57.0L254.9 54.7L257.3 53.4L261.7 53.1L265.7 54.2L269.0 56.7L270.7 59.7L270.9 63.0L269.7 67.0L266.3 72.5L263.7 75.0Z M221.3 141.3L216.3 139.7L213.4 136.3L212.2 129.7L213.4 123.3L215.3 120.1L218.7 117.6L227.0 113.6L231.7 113.1L232.8 114.3L233.1 117.3L231.2 130.3L227.5 138.0L224.3 140.4L221.3 141.3Z" fill="#3a3e62" fill-opacity="0.15"/><path d="M263.7 68.4L262.0 68.5L260.3 67.5L256.7 62.7L257.4 59.3L260.3 57.3L262.7 57.1L264.7 57.7L267.2 60.7L267.3 63.0L266.7 65.3L265.3 67.3L263.7 68.4Z M221.7 136.4L219.3 136.2L217.4 134.7L216.5 132.7L216.5 129.7L218.6 123.0L220.7 121.5L223.3 121.1L225.0 121.7L226.3 123.1L227.2 127.7L225.1 134.0L223.7 135.6L221.7 136.4Z" fill="#3a3e62" fill-opacity="0.15"/><path d="M262.7 63.4L261.7 63.0L261.3 62.4L262.0 61.2L263.0 61.3L263.5 62.0L263.3 63.0L262.7 63.4 M263.0 64.4L261.3 64.0L260.4 62.7L260.5 61.3L261.7 60.3L263.3 60.4L264.5 61.7L264.3 63.3L263.0 64.4 M221.3 132.4L220.0 131.7L219.9 130.0L220.8 128.0L222.3 127.2L223.3 128.0L223.5 129.7L222.7 131.5L221.3 132.4 M263.0 65.4L261.0 64.8L259.5 62.7L259.9 60.7L261.7 59.4L264.0 59.8L265.3 61.7L264.9 64.0L264.0 65.0L263.0 65.4 M221.0 133.7L220.0 133.4L219.2 132.7L218.9 130.0L220.3 126.8L221.3 125.9L222.7 125.6L223.7 126.1L224.3 127.0L224.4 129.7L223.0 132.7L221.0 133.7 M263.3 66.4L262.0 66.3L260.7 65.6L258.7 63.0L258.6 61.7L259.0 60.3L260.0 59.3L261.3 58.7L263.0 58.6L264.3 59.1L265.3 60.0L266.0 61.3L266.1 62.7L265.6 64.3L264.7 65.6L263.3 66.4 M221.3 134.7L220.0 134.6L218.7 133.6L218.0 132.0L218.0 130.0L218.8 127.3L220.0 125.3L221.3 124.2L223.0 124.1L224.2 124.7L225.0 125.7L225.4 127.3L225.3 129.3L223.9 133.0L222.7 134.2L221.3 134.7" fill="none" stroke="#1e2038" stroke-width="0.5"/><path d="M263.7 67.4L262.3 67.5L260.7 66.8L258.8 65.0L257.7 63.0L257.6 61.3L258.0 60.0L259.2 58.7L260.7 57.9L262.7 57.8L264.3 58.2L265.7 59.2L266.5 60.7L266.8 62.7L266.3 64.7L265.2 66.3L263.7 67.4 M221.3 135.7L219.3 135.3L218.0 134.3L217.1 132.3L217.1 130.0L218.1 126.3L219.2 124.0L221.0 122.6L223.0 122.4L224.7 123.1L225.8 124.3L226.3 126.0L226.4 128.3L225.7 131.3L224.5 133.7L223.0 135.1L221.3 135.7 M263.7 68.7L262.0 68.8L260.3 67.8L257.7 65.0L256.4 62.7L256.4 61.0L257.1 59.3L258.4 58.0L260.0 57.1L262.3 56.9L264.7 57.5L266.3 58.8L267.3 60.7L267.5 63.0L266.9 65.3L265.6 67.3L263.7 68.7 M221.0 136.7L218.7 136.1L216.9 134.3L216.2 131.7L216.5 128.3L217.5 124.3L218.7 122.4L221.0 121.0L224.0 120.8L225.7 121.7L227.0 123.8L227.5 126.0L227.2 129.0L226.2 132.3L224.9 134.7L223.0 136.2L221.0 136.7 M263.0 70.4L261.7 70.3L260.0 69.0L255.8 64.3L254.8 62.7L255.0 60.7L256.3 58.3L258.0 56.9L260.0 56.1L262.7 56.0L265.3 57.0L267.3 58.7L268.2 60.7L268.2 63.7L267.1 66.7L265.0 69.3L263.0 70.4 M221.7 137.7L218.3 137.1L217.0 136.1L216.0 134.7L215.3 130.7L215.9 125.7L216.9 122.7L218.7 120.8L222.0 119.4L225.3 119.1L227.0 120.0L228.0 122.3L228.6 125.3L228.4 128.3L227.2 132.3L225.7 135.3L224.0 136.8L221.7 137.7 M263.3 72.0L262.3 72.2L261.0 71.6L252.7 63.3L253.1 61.3L255.2 57.7L257.0 56.0L259.0 55.2L262.0 55.0L265.3 56.0L267.9 58.0L269.0 60.3L269.1 63.3L268.1 66.7L265.7 70.2L263.3 72.0 M222.3 138.7L220.3 138.8L218.0 138.1L216.3 136.9L215.2 135.3L214.3 130.3L215.0 124.3L216.3 121.6L219.0 119.4L224.3 117.4L228.0 117.0L229.0 117.7L229.3 118.7L229.9 125.0L229.5 128.7L227.9 133.3L226.4 136.0L224.7 137.7L222.3 138.7 M263.3 73.8L262.3 73.9L261.0 73.3L255.7 67.6L252.0 65.7L251.1 64.3L251.5 61.7L254.1 57.0L256.0 55.1L258.3 54.1L262.0 53.9L265.7 55.1L268.6 57.3L270.0 60.0L270.0 63.3L268.9 67.0L266.0 71.5L263.3 73.8 M222.3 140.1L220.3 140.2L218.0 139.4L215.7 138.0L214.4 136.3L213.6 133.7L213.1 130.0L214.1 123.7L215.8 120.7L218.7 118.4L226.7 115.1L230.3 114.6L231.3 115.3L231.6 117.0L231.1 126.3L230.4 129.7L228.5 134.7L227.1 137.0L225.0 138.9L222.3 140.1 M263.0 75.7L262.0 75.6L260.7 74.9L255.3 69.0L251.2 67.0L250.1 65.3L250.2 62.0L252.8 56.7L254.7 54.4L257.3 53.1L261.7 52.8L266.0 54.1L269.3 56.6L271.0 59.7L271.1 63.3L269.8 67.3L265.8 73.7L264.3 75.1L263.0 75.7 M221.7 141.7L219.3 141.4L216.3 140.1L214.5 138.7L213.2 136.7L212.4 134.0L212.0 130.0L212.3 126.7L213.1 123.3L215.0 120.2L218.3 117.5L227.0 113.2L230.0 112.5L232.0 112.6L233.2 114.0L233.6 117.3L232.2 127.7L231.5 130.3L229.2 136.0L227.7 138.3L224.7 140.6L221.7 141.7 M263.3 77.7L262.0 77.8L261.0 77.3L254.7 70.4L250.3 68.3L249.0 66.0L248.8 64.0L249.1 62.0L251.7 56.0L253.7 53.5L256.7 52.0L261.7 51.7L266.3 53.0L270.0 55.7L271.4 57.7L272.1 59.3L272.3 63.0L271.1 67.0L266.3 75.0L264.7 76.9L263.3 77.7 M222.3 143.0L220.0 143.1L217.3 142.2L214.1 140.3L212.3 138.3L211.3 135.3L210.8 131.3L210.9 127.7L211.8 124.0L213.2 121.0L215.3 118.6L225.0 112.2L226.7 111.5L229.7 110.8L233.3 110.7L234.3 111.4L234.9 112.7L235.4 118.0L232.8 130.7L230.2 136.7L228.7 139.0L225.7 141.5L222.3 143.0" fill="none" stroke="#1e2038" stroke-width="0.7"/><path d="M262.3 81.0L260.7 80.3L254.3 72.3L249.3 69.8L248.3 68.3L247.7 66.0L247.6 63.7L248.0 61.7L251.0 54.7L253.7 52.0L257.7 50.6L263.3 50.8L268.0 52.5L271.8 56.0L272.9 58.0L273.5 60.0L273.4 63.7L272.1 67.7L265.7 78.2L263.7 80.4L262.3 81.0 M222.3 144.4L220.0 144.5L217.3 143.7L213.0 141.7L211.0 139.7L209.9 136.7L209.5 133.0L209.7 128.3L210.5 124.3L212.0 121.0L214.2 118.3L216.7 116.2L221.6 113.0L224.7 110.3L226.3 109.5L231.7 108.4L234.3 108.5L235.7 109.4L236.5 111.0L237.1 118.3L234.1 131.0L231.1 137.7L229.3 140.2L226.3 142.6L222.3 144.4 M262.7 84.7L261.0 84.6L259.3 83.3L256.4 77.7L254.1 74.7L248.3 71.7L247.1 69.7L246.4 66.7L246.3 64.0L246.6 61.7L250.0 54.0L251.3 52.3L253.3 50.8L257.7 49.4L264.0 49.7L268.7 51.5L271.0 53.3L273.0 55.7L274.2 58.0L274.8 60.3L274.7 64.0L273.6 67.7L265.0 82.3L263.7 84.0L262.7 84.7 M222.0 145.7L218.7 145.6L212.7 143.6L210.7 142.5L209.4 141.0L208.4 138.3L208.0 135.0L208.5 128.7L209.4 124.3L210.8 121.0L213.0 118.1L216.0 115.3L220.5 112.0L224.3 108.2L226.0 107.3L232.0 105.6L234.3 105.5L236.0 106.4L237.3 107.7L238.2 109.3L238.5 111.3L238.6 119.7L235.5 131.0L232.2 138.0L230.0 141.2L226.7 143.8L222.0 145.7 M262.3 87.7L260.3 87.4L258.1 85.7L256.7 83.7L255.0 79.3L253.8 77.3L252.3 76.0L248.7 74.5L247.0 73.4L245.8 72.0L245.1 70.0L244.8 65.0L245.1 62.3L246.2 59.0L248.3 54.3L250.0 52.0L252.3 50.1L255.0 48.8L258.0 48.0L265.3 48.8L267.7 49.5L270.0 50.8L272.3 52.9L274.3 55.5L275.5 58.0L276.1 60.7L275.9 65.0L274.8 68.7L271.0 74.3L265.2 85.7L264.0 87.0L262.3 87.7 M222.3 147.0L218.7 147.1L211.7 145.2L209.7 144.2L208.0 142.3L206.6 139.3L206.2 136.0L208.1 124.3L209.7 120.7L212.0 117.5L215.7 113.8L220.3 110.0L224.0 106.1L226.0 104.8L231.7 102.4L234.3 101.6L236.0 101.7L237.8 103.3L240.4 109.3L240.3 118.3L239.4 122.7L236.1 133.0L232.1 140.3L228.6 144.0L222.3 147.0 M262.7 91.0L260.7 91.1L258.0 89.3L255.0 85.9L253.0 80.7L252.0 79.0L250.3 77.7L245.3 75.4L243.3 75.6L239.7 79.4L235.0 82.3L234.7 82.0L237.3 76.6L241.4 72.0L242.4 70.3L243.0 68.3L243.8 61.7L245.5 57.0L247.2 53.7L249.3 51.0L251.7 49.1L255.0 47.4L258.0 46.6L260.7 46.6L265.7 47.5L268.3 48.5L270.9 50.0L273.4 52.3L275.5 55.0L276.8 58.0L277.5 61.0L277.2 65.7L276.1 69.3L271.7 76.0L266.0 87.9L264.7 89.5L262.7 91.0 M231.3 88.9L230.7 88.9L230.3 88.3L230.9 86.0L232.3 84.0L234.7 82.1L234.9 82.3L233.3 86.3L231.3 88.9 M221.7 148.7L218.3 148.7L211.0 147.0L208.7 145.7L206.7 143.3L204.9 139.3L204.3 135.3L206.8 124.3L209.3 119.0L214.0 113.0L215.9 111.0L219.9 108.0L225.0 102.4L228.7 100.3L234.7 98.8L237.3 98.9L239.0 99.8L240.1 101.3L242.5 109.7L241.5 119.7L237.9 132.0L236.8 134.7L234.1 139.3L231.2 143.3L227.7 145.9L221.7 148.7 M221.0 150.7L217.0 150.5L210.3 148.9L207.3 146.8L205.2 143.7L203.4 139.0L202.5 134.3L206.2 122.3L208.5 118.0L213.3 110.5L215.0 108.7L219.1 105.7L223.7 99.3L227.9 86.3L240.0 70.3L240.8 68.3L241.8 63.3L243.6 58.0L245.2 54.3L247.1 51.7L251.3 47.8L255.0 45.9L257.3 45.1L261.7 45.3L268.3 47.1L271.3 48.8L274.2 51.3L276.3 54.0L277.8 57.0L278.7 60.3L278.9 63.0L278.3 67.0L277.2 70.3L272.3 77.9L265.4 93.0L264.0 97.2L263.0 98.2L261.7 97.7L255.3 90.8L252.8 87.0L250.7 81.8L248.3 79.7L246.0 78.9L244.0 79.2L238.7 82.7L237.0 84.3L232.8 94.7L233.1 95.3L233.8 95.7L238.0 95.8L240.0 96.4L241.7 97.5L242.8 99.0L244.4 109.3L243.1 119.3L238.8 133.7L234.0 141.7L232.0 144.2L229.7 146.1L223.7 149.8L221.0 150.7 M220.3 152.7L216.0 152.6L210.0 151.3L207.3 149.4L204.6 145.7L202.9 142.0L200.5 134.3L200.9 132.3L203.9 124.0L211.5 109.3L216.7 103.7L220.3 98.8L222.1 94.3L224.5 90.0L226.4 85.0L238.0 70.7L238.9 68.7L240.1 63.3L242.1 57.7L243.8 54.0L245.6 51.3L250.3 46.9L256.7 43.7L259.0 43.4L261.7 43.6L268.0 45.5L273.3 48.9L277.2 53.0L279.5 58.0L280.3 63.0L279.7 66.7L278.6 70.3L277.1 73.3L273.8 78.3L270.7 84.8L267.4 94.0L266.1 99.0L265.0 100.8L263.7 102.1L262.0 102.9L260.7 102.8L259.7 101.7L257.9 97.3L253.7 92.6L249.0 84.0L248.0 82.8L246.3 81.9L244.3 81.9L241.9 83.0L239.7 84.8L238.7 87.0L239.1 89.0L241.3 92.3L245.3 96.7L246.6 99.7L246.1 104.7L246.3 109.3L244.5 120.0L240.3 133.7L234.6 143.0L232.0 145.9L229.0 148.2L223.7 151.6L220.3 152.7 M220.3 154.4L216.0 154.5L209.0 153.1L206.7 151.4L203.9 147.7L202.1 144.3L198.6 134.7L198.8 132.3L201.4 125.3L207.3 114.3L209.4 108.7L214.4 102.7L222.1 90.7L224.7 84.5L236.3 70.7L237.4 68.3L239.8 59.0L242.5 53.3L244.2 50.7L249.0 46.2L255.7 42.4L258.0 41.8L260.7 41.7L263.3 42.0L265.7 42.8L270.3 45.2L274.7 48.4L277.4 51.0L279.4 54.0L281.2 59.0L281.7 62.3L281.2 66.3L279.5 71.3L278.1 74.3L274.9 79.3L272.0 85.7L267.4 100.3L264.3 104.5L261.3 106.8L259.0 107.0L256.9 105.3L252.4 97.0L249.6 90.3L247.0 86.1L245.0 85.0L244.0 85.2L243.0 86.0L242.6 88.0L243.7 91.0L245.1 92.7L250.8 98.0L251.6 99.7L249.2 105.0L248.5 109.3L247.2 113.7L246.4 119.3L244.0 125.6L242.7 131.7L241.0 135.3L236.8 142.3L234.0 145.9L230.7 148.8L226.7 151.6L223.3 153.4L220.3 154.4" fill="none" stroke="#1e2038" stroke-width="0.9"/>
<ellipse cx="221" cy="130" rx="12" ry="16" fill="url(#core)" transform="rotate(30 221 130)"/>
<ellipse cx="262" cy="61" rx="11" ry="11" fill="url(#core)" transform="rotate(0 262 61)"/>
<path d="M218.5 119.0h1.3M220.6 125.3h1.6M222.6 138.4h1.6M217.7 141.7h1.3M216.2 143.9h1.5M216.2 141.6h0.8M209.8 137.8h1.0M211.5 129.7h0.6M215.2 128.3h1.4M211.7 130.4h0.8M218.1 142.6h1.3M216.3 123.2h1.0M220.0 136.8h1.2M225.9 133.7h0.8M225.8 116.6h1.2M228.0 123.8h0.9M228.2 135.2h1.2M225.7 116.2h0.7M212.6 137.5h1.5M223.1 131.5h0.7M228.3 127.2h1.2M226.8 137.3h0.8M220.2 121.6h1.4M214.0 139.0h0.8M215.8 138.5h1.4M230.7 120.1h0.7M228.8 136.0h0.7M211.8 137.8h1.4M220.8 118.7h1.2M231.7 121.8h0.6M209.3 130.4h0.9M232.2 128.6h1.4M228.7 135.4h0.9M229.7 134.9h0.9M223.0 141.1h1.3M224.0 136.8h0.8M212.8 127.6h1.3M218.8 122.7h1.0M229.1 135.3h1.2M225.8 137.6h1.4M230.2 131.0h0.8M229.0 125.9h1.5M211.2 135.9h1.3M215.7 124.4h1.3M229.8 136.0h1.3M209.5 135.1h0.8M227.1 136.0h1.4M222.1 120.0h1.4M220.2 133.4h1.0M211.6 134.7h0.9M218.0 130.2h1.5M220.1 126.8h0.8M231.2 119.9h0.8M210.6 139.8h1.3M215.7 136.0h0.7M214.2 131.3h0.6M223.0 131.4h1.5M228.9 128.8h1.1M211.9 134.2h1.4M227.3 123.8h1.0M216.2 130.7h0.6M213.2 132.8h1.3M220.1 143.8h1.2M223.6 117.0h0.8M228.8 129.8h1.1M212.3 138.4h1.4M228.2 121.3h0.9M219.6 137.2h1.2M217.1 132.6h1.3M216.5 137.0h0.8M226.5 121.0h0.9M228.4 133.5h1.1M227.2 125.6h1.5M211.4 137.9h1.1M228.0 129.3h0.6M213.3 141.8h0.7M229.9 119.8h0.6M223.1 136.7h1.3M211.8 140.6h1.0M221.9 133.2h0.7" stroke="#15172c" stroke-width="0.7" stroke-opacity="0.7"/>
<path d="M264.0 66.9h0.7M254.1 63.1h1.6M266.8 53.1h0.7M256.1 56.3h0.7M258.6 67.2h0.8M254.1 65.3h0.7M267.4 57.8h1.0M266.3 62.9h1.1M255.0 65.3h1.4M264.2 54.0h1.2M255.4 65.1h0.7M267.3 54.4h1.3M267.7 64.5h0.8M257.9 54.7h0.6M259.9 51.5h1.3M254.8 54.2h1.1M260.0 56.4h1.3M270.9 57.1h1.1M270.9 58.6h1.0M255.4 56.6h1.1M263.2 67.9h0.8M257.1 57.8h1.3M259.9 69.8h1.1M265.3 67.1h1.6M259.8 55.4h1.3M266.4 53.4h1.5M259.1 55.9h0.9M263.5 55.5h1.3M268.2 67.0h1.6M254.2 62.8h1.5M260.8 64.6h0.7M263.4 55.2h0.7M254.8 55.9h0.9M270.9 63.4h0.8M256.2 65.2h1.0M252.5 58.0h1.3M264.2 67.6h0.7M260.5 52.4h1.6M257.8 64.3h1.0M269.3 63.3h1.4M269.2 65.8h1.3M256.5 63.5h0.8M254.6 57.1h0.6M261.5 56.7h0.7M258.6 54.9h0.8M255.7 64.5h0.7M269.8 65.4h1.4M258.2 65.6h0.8M271.3 60.9h0.8M269.7 63.1h1.0M258.6 57.3h0.8M269.7 59.1h0.9M264.5 57.8h0.7M268.7 55.5h0.7M269.2 59.9h0.8M257.7 52.9h0.7M266.0 58.9h0.7M268.0 62.3h0.9M263.2 56.2h0.7M258.3 60.0h0.8" stroke="#15172c" stroke-width="0.7" stroke-opacity="0.7"/>
<ellipse cx="262" cy="61" rx="1.6" ry="2.2" fill="#fff" transform="rotate(20 262 61)"/>
<ellipse cx="221" cy="129" rx="1.3" ry="2.2" fill="#fff" transform="rotate(20 221 129)"/>
<rect x="78.3" y="45.8" width="40.0" height="40.5" fill="none" stroke="#000" stroke-width="1.4"/>
<rect x="80.2" y="87" width="34.5" height="26.5" fill="none" stroke="#000" stroke-width="1.4"/>
<rect x="36.5" y="93" width="41.2" height="50.30000000000001" fill="none" stroke="#000" stroke-width="1.4"/>
<rect x="247" y="40.2" width="38.89999999999998" height="40.0" fill="none" stroke="#000" stroke-width="1.4"/>
<rect x="249" y="81.7" width="34.39999999999998" height="26.5" fill="none" stroke="#000" stroke-width="1.4"/>
<rect x="204.6" y="99.5" width="40.900000000000006" height="49.900000000000006" fill="none" stroke="#000" stroke-width="1.4"/>
<text x="33.2" y="78" font-size="9" font-weight="normal" text-anchor="start" fill="#000" letter-spacing="0.4" stroke="#000" stroke-width="0.2">MEP</text><text x="36.400000000000006" y="83.7" font-size="6.1" font-weight="normal" text-anchor="start" fill="#222" letter-spacing="0.8" stroke="#222" stroke-width="0.05">(6%)</text>
<text x="126.4" y="50.6" font-size="9" font-weight="normal" text-anchor="start" fill="#000" letter-spacing="0.4" stroke="#000" stroke-width="0.2">GMP</text><text x="127.8" y="56.8" font-size="6.1" font-weight="normal" text-anchor="start" fill="#222" letter-spacing="0.8" stroke="#222" stroke-width="0.05">(3%)</text>
<text x="121.4" y="92.2" font-size="9" font-weight="normal" text-anchor="start" fill="#000" letter-spacing="0.4" stroke="#000" stroke-width="0.2">CMP</text><text x="120.4" y="99.2" font-size="6.1" font-weight="normal" text-anchor="start" fill="#222" letter-spacing="0.8" stroke="#222" stroke-width="0.05">(1.9%)</text>
<text x="295" y="45.7" font-size="9" font-weight="normal" text-anchor="start" fill="#000" letter-spacing="0.4" stroke="#000" stroke-width="0.2">GMP</text><text x="294.4" y="52.6" font-size="6.1" font-weight="normal" text-anchor="start" fill="#222" letter-spacing="0.8" stroke="#222" stroke-width="0.05">(3.3%)</text>
<text x="291.2" y="88" font-size="9" font-weight="normal" text-anchor="start" fill="#000" letter-spacing="0.4" stroke="#000" stroke-width="0.2">CMP</text><text x="292.0" y="94.8" font-size="6.1" font-weight="normal" text-anchor="start" fill="#222" letter-spacing="0.8" stroke="#222" stroke-width="0.05">(0.4%)</text>
<text x="200.4" y="88.4" font-size="9" font-weight="normal" text-anchor="start" fill="#000" letter-spacing="0.4" stroke="#000" stroke-width="0.2">MEP</text><text x="197.7" y="94.8" font-size="6.1" font-weight="normal" text-anchor="start" fill="#222" letter-spacing="0.8" stroke="#222" stroke-width="0.05">(9.6%)</text>
<text x="379.6" y="13.6" font-size="15.6" font-weight="bold" text-anchor="start" fill="#000" >B</text>
<path d="M405.6 29 L517.2 29 L517.2 160.8" fill="none" stroke="#000" stroke-width="1.6"/>
<line x1="405.6" y1="28" x2="405.6" y2="161.5" stroke="#000" stroke-width="1.5"/>
<line x1="405" y1="160.8" x2="517.5" y2="160.8" stroke="#000" stroke-width="1.8"/>
<line x1="403.5" y1="160.8" x2="405.6" y2="160.8" stroke="#000" stroke-width="1"/>
<text x="403.6" y="162.9" font-size="5.9" font-weight="normal" text-anchor="end" fill="#000" stroke="#000" stroke-width="0.12">0</text>
<line x1="403.5" y1="138.8" x2="405.6" y2="138.8" stroke="#000" stroke-width="1"/>
<text x="403.6" y="140.85" font-size="5.9" font-weight="normal" text-anchor="end" fill="#000" stroke="#000" stroke-width="0.12">20</text>
<line x1="403.5" y1="116.7" x2="405.6" y2="116.7" stroke="#000" stroke-width="1"/>
<text x="403.6" y="118.80000000000001" font-size="5.9" font-weight="normal" text-anchor="end" fill="#000" stroke="#000" stroke-width="0.12">40</text>
<line x1="403.5" y1="94.7" x2="405.6" y2="94.7" stroke="#000" stroke-width="1"/>
<text x="403.6" y="96.75" font-size="5.9" font-weight="normal" text-anchor="end" fill="#000" stroke="#000" stroke-width="0.12">60</text>
<line x1="403.5" y1="72.6" x2="405.6" y2="72.6" stroke="#000" stroke-width="1"/>
<text x="403.6" y="74.7" font-size="5.9" font-weight="normal" text-anchor="end" fill="#000" stroke="#000" stroke-width="0.12">80</text>
<line x1="403.5" y1="50.6" x2="405.6" y2="50.6" stroke="#000" stroke-width="1"/>
<text x="403.6" y="52.65000000000001" font-size="5.9" font-weight="normal" text-anchor="end" fill="#000" stroke="#000" stroke-width="0.12">100</text>
<line x1="403.5" y1="28.5" x2="405.6" y2="28.5" stroke="#000" stroke-width="1"/>
<text x="403.6" y="30.6" font-size="5.9" font-weight="normal" text-anchor="end" fill="#000" stroke="#000" stroke-width="0.12">120</text>
<rect x="414.5" y="50.6" width="11.5" height="110.2" fill="#000"/>
<line x1="430.6" y1="119.3" x2="430.6" y2="134.3" stroke="#000" stroke-width="1.3"/>
<line x1="428.3" y1="119.3" x2="432.9" y2="119.3" stroke="#000" stroke-width="1.3"/>
<rect x="426.2" y="134.3" width="9.5" height="26.5" fill="#c4f2f6" stroke="#000" stroke-width="1.3"/>
<rect x="450.0" y="50.6" width="11.6" height="110.2" fill="#000"/>
<line x1="465.7" y1="62.9" x2="465.7" y2="98.0" stroke="#000" stroke-width="1.3"/>
<line x1="463.4" y1="62.9" x2="468.0" y2="62.9" stroke="#000" stroke-width="1.3"/>
<rect x="461.8" y="98.0" width="9.5" height="62.8" fill="#c4f2f6" stroke="#000" stroke-width="1.3"/>
<rect x="486" y="50.6" width="11.3" height="110.2" fill="#000"/>
<line x1="501.7" y1="88.3" x2="501.7" y2="108.3" stroke="#000" stroke-width="1.3"/>
<line x1="499.4" y1="88.3" x2="504.0" y2="88.3" stroke="#000" stroke-width="1.3"/>
<rect x="497.5" y="108.3" width="9.5" height="52.5" fill="#c4f2f6" stroke="#000" stroke-width="1.3"/>
<text x="416.2" y="26.8" font-size="9.2" font-weight="normal" text-anchor="start" fill="#000" letter-spacing="0.2" stroke="#000" stroke-width="0.1">CMP</text>
<text x="449.1" y="26.8" font-size="9.2" font-weight="normal" text-anchor="start" fill="#000" letter-spacing="0.2" stroke="#000" stroke-width="0.1">GMP</text>
<text x="486.4" y="26.8" font-size="9.2" font-weight="normal" text-anchor="start" fill="#000" letter-spacing="0.2" stroke="#000" stroke-width="0.1">MEP</text>
<text x="420.3" y="169.6" font-size="7.5" font-weight="bold" text-anchor="middle" fill="#000" >+</text>
<text x="427.0" y="169.6" font-size="7.5" font-weight="bold" text-anchor="start" fill="#000" letter-spacing="1.6">-/-</text>
<text x="455.6" y="169.6" font-size="7.5" font-weight="bold" text-anchor="middle" fill="#000" >+</text>
<text x="462.8" y="169.6" font-size="7.5" font-weight="bold" text-anchor="start" fill="#000" letter-spacing="1.6">-/-</text>
<text x="491.3" y="169.6" font-size="7.5" font-weight="bold" text-anchor="middle" fill="#000" >+</text>
<text x="498.4" y="169.6" font-size="7.5" font-weight="bold" text-anchor="start" fill="#000" letter-spacing="1.6">-/-</text>
<text transform="translate(387.2,159.5) rotate(-90)" font-size="9.9" textLength="133.4" lengthAdjust="spacingAndGlyphs" stroke="#000" stroke-width="0.08">Progenitors per liver (% of normal)</text>
<text x="0.5" y="205.6" font-size="17" font-weight="bold" text-anchor="start" fill="#000" >C</text>
<line x1="30.4" y1="209" x2="30.4" y2="381" stroke="#000" stroke-width="2"/>
<line x1="29.5" y1="379.8" x2="264" y2="379.8" stroke="#000" stroke-width="2"/>
<line x1="27.8" y1="380.0" x2="30.4" y2="380.0" stroke="#000" stroke-width="1.2"/>
<text x="25.6" y="382.6" font-size="7.3" font-weight="normal" text-anchor="end" fill="#000" stroke="#000" stroke-width="0.15">0</text>
<line x1="27.8" y1="346.0" x2="30.4" y2="346.0" stroke="#000" stroke-width="1.2"/>
<text x="25.6" y="348.56" font-size="7.3" font-weight="normal" text-anchor="end" fill="#000" stroke="#000" stroke-width="0.15">20</text>
<line x1="27.8" y1="311.9" x2="30.4" y2="311.9" stroke="#000" stroke-width="1.2"/>
<text x="25.6" y="314.52000000000004" font-size="7.3" font-weight="normal" text-anchor="end" fill="#000" stroke="#000" stroke-width="0.15">40</text>
<line x1="27.8" y1="277.9" x2="30.4" y2="277.9" stroke="#000" stroke-width="1.2"/>
<text x="25.6" y="280.48" font-size="7.3" font-weight="normal" text-anchor="end" fill="#000" stroke="#000" stroke-width="0.15">60</text>
<line x1="27.8" y1="243.8" x2="30.4" y2="243.8" stroke="#000" stroke-width="1.2"/>
<text x="25.6" y="246.44" font-size="7.3" font-weight="normal" text-anchor="end" fill="#000" stroke="#000" stroke-width="0.15">80</text>
<line x1="27.8" y1="209.8" x2="30.4" y2="209.8" stroke="#000" stroke-width="1.2"/>
<text x="25.6" y="212.4" font-size="7.3" font-weight="normal" text-anchor="end" fill="#000" stroke="#000" stroke-width="0.15">100</text>
<line x1="30.4" y1="363.0" x2="31.8" y2="363.0" stroke="#000" stroke-width="0.8"/>
<line x1="30.4" y1="328.9" x2="31.8" y2="328.9" stroke="#000" stroke-width="0.8"/>
<line x1="30.4" y1="294.9" x2="31.8" y2="294.9" stroke="#000" stroke-width="0.8"/>
<line x1="30.4" y1="260.9" x2="31.8" y2="260.9" stroke="#000" stroke-width="0.8"/>
<line x1="30.4" y1="226.8" x2="31.8" y2="226.8" stroke="#000" stroke-width="0.8"/>
<rect x="49.2" y="222.3" width="22.6" height="33.7" fill="#a4b8f3"/>
<rect x="49.2" y="256.0" width="22.6" height="35.3" fill="#f7a8f0"/>
<rect x="49.2" y="291.3" width="22.6" height="29.1" fill="#f23e9e"/>
<rect x="49.2" y="320.4" width="22.6" height="11.9" fill="#ec1c40"/>
<rect x="49.2" y="332.3" width="22.6" height="22.3" fill="#b8f5a6"/>
<rect x="49.2" y="354.6" width="22.6" height="25.4" fill="#9ef05a"/>
<line x1="49.2" y1="256.0" x2="71.8" y2="256.0" stroke="#000" stroke-width="1.6"/>
<line x1="49.2" y1="291.3" x2="71.8" y2="291.3" stroke="#000" stroke-width="1.6"/>
<line x1="49.2" y1="320.4" x2="71.8" y2="320.4" stroke="#000" stroke-width="1.6"/>
<line x1="49.2" y1="332.3" x2="71.8" y2="332.3" stroke="#000" stroke-width="1.6"/>
<line x1="49.2" y1="354.6" x2="71.8" y2="354.6" stroke="#000" stroke-width="1.6"/>
<rect x="49.6" y="222.7" width="21.8" height="157.7" fill="none" stroke="#000" stroke-width="1.6"/>
<text x="60.5" y="241.5" font-size="7.0" font-weight="bold" text-anchor="middle" fill="#101018" fill-opacity="0.92">Mix</text>
<text x="60.5" y="276.3" font-size="7.0" font-weight="bold" text-anchor="middle" fill="#101018" fill-opacity="0.92">E+Me</text>
<text x="60.5" y="309.1" font-size="7.0" font-weight="bold" text-anchor="middle" fill="#101018" fill-opacity="0.92">Me</text>
<text x="60.5" y="328.9" font-size="7.0" font-weight="bold" text-anchor="middle" fill="#101018" fill-opacity="0.92">E</text>
<text x="60.5" y="345.9" font-size="7.0" font-weight="bold" text-anchor="middle" fill="#101018" fill-opacity="0.92">GM</text>
<text x="60.5" y="370.1" font-size="7.0" font-weight="bold" text-anchor="middle" fill="#101018" fill-opacity="0.92">Mac</text>
<rect x="80.3" y="235.0" width="22.4" height="14.6" fill="#a4b8f3"/>
<rect x="80.3" y="249.6" width="22.4" height="8.9" fill="#f7a8f0"/>
<rect x="80.3" y="258.5" width="22.4" height="3.8" fill="#f23e9e"/>
<rect x="80.3" y="262.3" width="22.4" height="4.3" fill="#ec1c40"/>
<rect x="80.3" y="266.6" width="22.4" height="25.4" fill="#b8f5a6"/>
<rect x="80.3" y="292.0" width="22.4" height="79.7" fill="#9ef05a"/>
<rect x="80.3" y="371.7" width="22.4" height="8.3" fill="#90dc3e"/>
<line x1="80.3" y1="249.6" x2="102.7" y2="249.6" stroke="#000" stroke-width="1.6"/>
<line x1="80.3" y1="258.5" x2="102.7" y2="258.5" stroke="#000" stroke-width="1.6"/>
<line x1="80.3" y1="262.3" x2="102.7" y2="262.3" stroke="#000" stroke-width="1.6"/>
<line x1="80.3" y1="266.6" x2="102.7" y2="266.6" stroke="#000" stroke-width="1.6"/>
<line x1="80.3" y1="292.0" x2="102.7" y2="292.0" stroke="#000" stroke-width="1.6"/>
<line x1="80.3" y1="371.7" x2="102.7" y2="371.7" stroke="#000" stroke-width="1.6"/>
<rect x="80.7" y="235.4" width="21.6" height="145.0" fill="none" stroke="#000" stroke-width="1.6"/>
<text x="91.5" y="244.3" font-size="7.0" font-weight="bold" text-anchor="middle" fill="#101018" fill-opacity="0.92">Mix</text>
<text x="91.5" y="256.7" font-size="7.0" font-weight="bold" text-anchor="middle" fill="#101018" fill-opacity="0.92">E+Me</text>
<text x="91.5" y="282.2" font-size="7.0" font-weight="bold" text-anchor="middle" fill="#101018" fill-opacity="0.92">GM</text>
<text x="91.5" y="332.5" font-size="7.0" font-weight="bold" text-anchor="middle" fill="#101018" fill-opacity="0.92">Mac</text>
<text x="91.5" y="378.3" font-size="7.0" font-weight="bold" text-anchor="middle" fill="#101018" fill-opacity="0.92">G</text>
<rect x="120.9" y="249.4" width="22.3" height="59.7" fill="#f7a8f0"/>
<rect x="120.9" y="309.1" width="22.3" height="53.6" fill="#f23e9e"/>
<rect x="120.9" y="362.7" width="22.3" height="17.3" fill="#ec1c40"/>
<line x1="120.9" y1="309.1" x2="143.2" y2="309.1" stroke="#000" stroke-width="1.6"/>
<line x1="120.9" y1="362.7" x2="143.2" y2="362.7" stroke="#000" stroke-width="1.6"/>
<rect x="121.3" y="249.8" width="21.5" height="130.6" fill="none" stroke="#000" stroke-width="1.6"/>
<text x="132.05" y="280.0" font-size="7.0" font-weight="bold" text-anchor="middle" fill="#101018" fill-opacity="0.92">E+Me</text>
<text x="132.05" y="335.2" font-size="7.0" font-weight="bold" text-anchor="middle" fill="#101018" fill-opacity="0.92">Me</text>
<text x="132.05" y="373.3" font-size="7.0" font-weight="bold" text-anchor="middle" fill="#101018" fill-opacity="0.92">E</text>
<rect x="152.3" y="329.0" width="22.1" height="19.1" fill="#f7a8f0"/>
<rect x="152.3" y="348.1" width="22.1" height="13.2" fill="#f23e9e"/>
<rect x="152.3" y="361.3" width="22.1" height="18.7" fill="#ec1c40"/>
<line x1="152.3" y1="348.1" x2="174.4" y2="348.1" stroke="#000" stroke-width="1.6"/>
<line x1="152.3" y1="361.3" x2="174.4" y2="361.3" stroke="#000" stroke-width="1.6"/>
<rect x="152.7" y="329.4" width="21.3" height="51.0" fill="none" stroke="#000" stroke-width="1.6"/>
<text x="163.35000000000002" y="340.5" font-size="7.0" font-weight="bold" text-anchor="middle" fill="#101018" fill-opacity="0.92">E+Me</text>
<text x="163.35000000000002" y="357.4" font-size="7.0" font-weight="bold" text-anchor="middle" fill="#101018" fill-opacity="0.92">Me</text>
<text x="163.35000000000002" y="373.3" font-size="7.0" font-weight="bold" text-anchor="middle" fill="#101018" fill-opacity="0.92">E</text>
<rect x="192.0" y="234.8" width="22.3" height="19.9" fill="#b8f5a6"/>
<rect x="192.0" y="254.7" width="22.3" height="58.3" fill="#9ef05a"/>
<rect x="192.0" y="313.0" width="22.3" height="67.0" fill="#90dc3e"/>
<line x1="192.0" y1="254.7" x2="214.3" y2="254.7" stroke="#000" stroke-width="1.6"/>
<line x1="192.0" y1="313.0" x2="214.3" y2="313.0" stroke="#000" stroke-width="1.6"/>
<rect x="192.4" y="235.2" width="21.5" height="145.2" fill="none" stroke="#000" stroke-width="1.6"/>
<text x="203.15" y="247.1" font-size="7.0" font-weight="bold" text-anchor="middle" fill="#101018" fill-opacity="0.92">GM</text>
<text x="203.15" y="283.7" font-size="7.0" font-weight="bold" text-anchor="middle" fill="#101018" fill-opacity="0.92">Mac</text>
<text x="203.15" y="348.5" font-size="7.0" font-weight="bold" text-anchor="middle" fill="#101018" fill-opacity="0.92">G</text>
<rect x="223.0" y="262.0" width="22.5" height="9.9" fill="#b8f5a6"/>
<rect x="223.0" y="271.9" width="22.5" height="70.1" fill="#9ef05a"/>
<rect x="223.0" y="342.0" width="22.5" height="38.0" fill="#90dc3e"/>
<line x1="223.0" y1="271.9" x2="245.5" y2="271.9" stroke="#000" stroke-width="1.6"/>
<line x1="223.0" y1="342.0" x2="245.5" y2="342.0" stroke="#000" stroke-width="1.6"/>
<rect x="223.4" y="262.4" width="21.7" height="118.0" fill="none" stroke="#000" stroke-width="1.6"/>
<text x="234.25" y="269.6" font-size="7.0" font-weight="bold" text-anchor="middle" fill="#101018" fill-opacity="0.92">GM</text>
<text x="234.25" y="304.5" font-size="7.0" font-weight="bold" text-anchor="middle" fill="#101018" fill-opacity="0.92">Mac</text>
<text x="234.25" y="362.5" font-size="7.0" font-weight="bold" text-anchor="middle" fill="#101018" fill-opacity="0.92">G</text>
<line x1="48.7" y1="211" x2="103.8" y2="211" stroke="#000" stroke-width="2"/>
<text x="77.2" y="208.3" font-size="9" font-weight="normal" text-anchor="middle" fill="#000" letter-spacing="0.2" stroke="#000" stroke-width="0.2">CMP</text>
<line x1="119.8" y1="211" x2="175.1" y2="211" stroke="#000" stroke-width="2"/>
<text x="148.8" y="208.3" font-size="9" font-weight="normal" text-anchor="middle" fill="#000" letter-spacing="0.2" stroke="#000" stroke-width="0.2">MEP</text>
<line x1="191.4" y1="211" x2="246" y2="211" stroke="#000" stroke-width="2"/>
<text x="222.6" y="208.3" font-size="9" font-weight="normal" text-anchor="middle" fill="#000" letter-spacing="0.2" stroke="#000" stroke-width="0.2">GMP</text>
<text x="61.2" y="389.2" font-size="7.4" font-weight="bold" text-anchor="middle" fill="#000" letter-spacing="0.9">+/+</text>
<text x="92.2" y="389.2" font-size="7.4" font-weight="bold" text-anchor="middle" fill="#000" letter-spacing="1.0">-/-</text>
<text x="132.9" y="389.2" font-size="7.4" font-weight="bold" text-anchor="middle" fill="#000" letter-spacing="0.9">+/+</text>
<text x="163.4" y="389.2" font-size="7.4" font-weight="bold" text-anchor="middle" fill="#000" letter-spacing="1.0">-/-</text>
<text x="204.7" y="389.2" font-size="7.4" font-weight="bold" text-anchor="middle" fill="#000" letter-spacing="0.9">+/+</text>
<text x="235.5" y="389.2" font-size="7.4" font-weight="bold" text-anchor="middle" fill="#000" letter-spacing="1.0">-/-</text>
<line x1="50.8" y1="397" x2="246.5" y2="397" stroke="#000" stroke-width="1.8"/>
<text x="67.3" y="408.5" font-size="8.4" font-weight="normal" text-anchor="start" fill="#000" textLength="161.5" lengthAdjust="spacingAndGlyphs" stroke="#000" stroke-width="0.2">SLF + FL + IL-3 + IL-6 + IL-11 + Epo + Tpo</text>
<text transform="translate(11.9,364.6) rotate(-90)" font-size="10.4" textLength="146" lengthAdjust="spacingAndGlyphs" stroke="#000" stroke-width="0.2">Colony types / clonal progenitor</text></svg>
</body></html>
